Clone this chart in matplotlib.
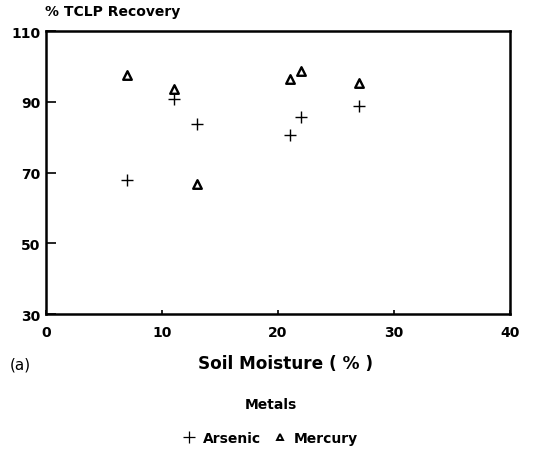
import matplotlib
matplotlib.use("Agg")
import matplotlib.pyplot as plt
from matplotlib.lines import Line2D

plt.rcParams['font.family'] = ['DejaVu Sans']

arsenic_x = [7, 11, 13, 21, 22, 27]
arsenic_y = [68, 90.8, 83.8, 80.6, 85.6, 88.7]
mercury_x = [7, 11, 13, 21, 22, 27]
mercury_y = [97.5, 93.6, 66.8, 96.5, 98.6, 95.4]

x_ticks = [0, 10, 20, 30, 40]
y_ticks = [30, 50, 70, 90, 110]

fig = plt.figure(figsize=(5.41, 4.56), dpi=100)
ax = fig.add_axes([0.085, 0.3092, 0.8577, 0.6206])

ax.scatter(arsenic_x, arsenic_y, marker='+', s=75, color='black', linewidths=1.0)
ax.scatter(mercury_x, mercury_y, marker='^', s=38, facecolors='white', edgecolors='black',
           linewidths=1.7)

ax.set_xlim(0, 40)
ax.set_ylim(30, 110)
ax.set_xticks(x_ticks)
ax.set_yticks(y_ticks)
ax.tick_params(axis='both', direction='in', labelsize=10, width=1.2, colors='black')
ax.tick_params(axis='y', length=7, pad=4)
ax.tick_params(axis='x', length=3, pad=8)
for lbl in ax.get_xticklabels() + ax.get_yticklabels():
    lbl.set_fontweight('bold')
for s in ax.spines.values():
    s.set_linewidth(1.8)

fig.text(0.083, 0.974, '% TCLP Recovery', fontsize=10, fontweight='bold', va='center', ha='left')
fig.text(0.018, 0.19, '(a)', fontsize=11, va='baseline', ha='left')
fig.text(0.527, 0.19, 'Soil Moisture ( % )', fontsize=12.2, fontweight='bold', va='baseline', ha='center')

handles = [Line2D([], [], linestyle='none', marker='+', markersize=9, color='black', markeredgewidth=0.9),
           Line2D([], [], linestyle='none', marker='^', markersize=5, markerfacecolor='white',
                  markeredgecolor='black', markeredgewidth=1.4)]
leg = fig.legend(handles, ['Arsenic', 'Mercury'], loc='center', bbox_to_anchor=(0.5, 0.075), ncol=2,
                 frameon=False, title='Metals', fontsize=10, handletextpad=0.55, columnspacing=0.9,
                 handlelength=0.9)
leg.get_title().set_fontweight('bold')
leg.get_title().set_fontsize(10)
for t in leg.get_texts():
    t.set_fontweight('bold')
leg._legend_box.sep = 14

fig.savefig('out.png', dpi=100)
